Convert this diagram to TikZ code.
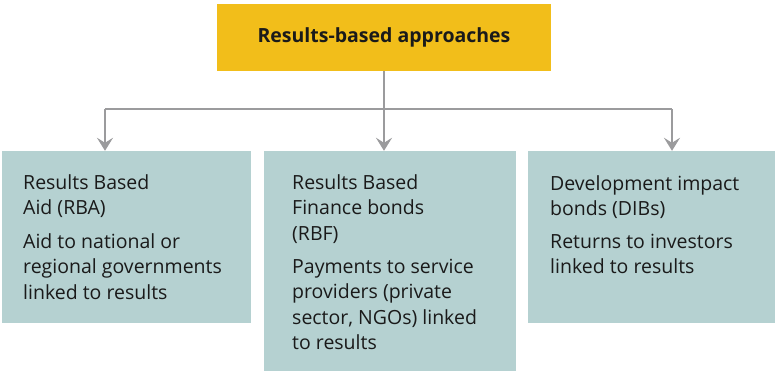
\documentclass[tikz,border=0pt]{standalone}
\usepackage{fontspec}
\setmainfont{Open Sans}
\usetikzlibrary{arrows.meta}
\definecolor{topyellow}{HTML}{F2BE1A}
\definecolor{boxteal}{HTML}{B5D1D1}
\definecolor{linegray}{HTML}{9B9B9D}
\definecolor{txt}{HTML}{1A1A1A}
\begin{document}
\begin{tikzpicture}[x=1bp,y=-1bp,
  topbox/.style={fill=topyellow, draw=none, minimum width=334bp, minimum height=67bp, inner sep=0pt,
    font=\bfseries\fontsize{19.5bp}{23bp}\selectfont, text=txt},
  catbox/.style={fill=boxteal, draw=none, inner sep=0pt},
  conn/.style={draw=linegray, line width=2bp},
  tip/.style={-{Stealth[length=13bp,width=16bp,inset=5bp]}},
  body/.style={anchor=base west, align=left, inner sep=0pt, font=\fontsize{19.5bp}{25.5bp}\selectfont, text=txt}]
\useasboundingbox (0,0) rectangle (775,371);
\node[topbox] (top) at (384,37.5) {Results-based approaches};
\node[catbox, minimum width=249bp, minimum height=172bp] (left) at (126.5,237) {};
\node[catbox, minimum width=252bp, minimum height=220bp] (mid) at (390,261) {};
\node[catbox, minimum width=247bp, minimum height=172bp] (right) at (651.5,237) {};
\coordinate (j) at (384,109);
\coordinate (jl) at (105,109);
\coordinate (jr) at (672,109);
\draw[conn] (top.south) -- (j);
\draw[conn] (jl) -- (jr);
\draw[conn,tip] (jl) -- (jl |- left.north);
\draw[conn,tip] (j) -- (j |- mid.north);
\draw[conn,tip] (jr) -- (jr |- right.north);
% anchors are at the baseline of each text's last line
\node[body] (l1) at (23,214.5) {Results Based\\Aid (RBA)};
\node[body] (l2) at (23,299) {Aid to national or\\regional governments\\linked to results};
\node[body] (m1) at (292,240) {Results Based\\Finance bonds\\(RBF)};
\node[body] (m2) at (292,349.5) {Payments to service\\providers (private\\sector, NGOs) linked\\to results};
\node[body] (r1) at (550,215.5) {Development impact\\bonds (DIBs)};
\node[body] (r2) at (550,273.5) {Returns to investors\\linked to results};
\end{tikzpicture}
\end{document}
